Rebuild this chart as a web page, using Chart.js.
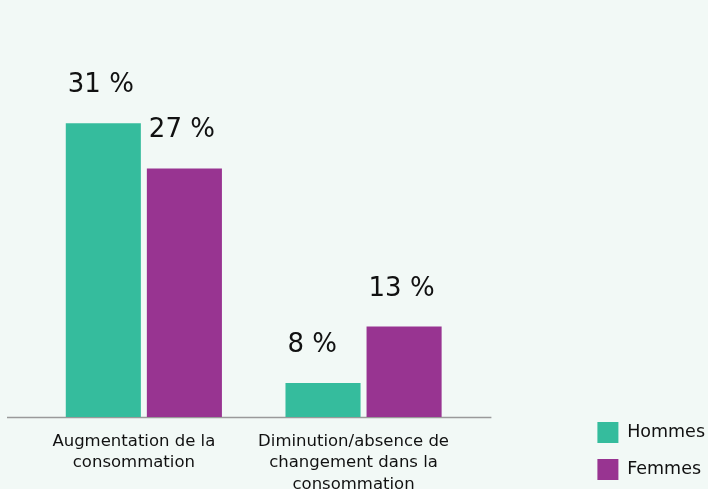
<!DOCTYPE html>
<html>
<head>
  <meta charset="utf-8">
  <title>Consommation : hommes et femmes</title>
  <script src="https://cdn.jsdelivr.net/npm/chart.js"></script>
  <style>
    html, body {
      margin: 0;
      padding: 0;
      background: #f2f9f6;
    }
    .chart-container {
      width: 708px;
      height: 489px;
    }
  </style>
</head>
<body>
  <div class="chart-container">
    <canvas id="consoChart"></canvas>
  </div>

  <script>
    // Categories (multi-line tick labels)
    const categories = [
      ['Augmentation de la', 'consommation'],
      ['Diminution/absence de', 'changement dans la', 'consommation']
    ];
    // Series values (%)
    const hommes = [31, 8];
    const femmes = [27, 13];

    const teal = '#35bc9d';
    const purple = '#983491';
    const fontFamily = '"DejaVu Sans", sans-serif';

    // draws "31 %" etc. above each bar, left aligned on the bar
    const valueLabels = {
      id: 'valueLabels',
      afterDatasetsDraw(chart) {
        const ctx = chart.ctx;
        ctx.save();
        ctx.font = '26px ' + fontFamily;
        ctx.fillStyle = '#111';
        ctx.textAlign = 'left';
        ctx.textBaseline = 'alphabetic';
        chart.data.datasets.forEach((ds, i) => {
          chart.getDatasetMeta(i).data.forEach((bar, j) => {
            ctx.fillText(ds.data[j] + ' %', bar.x - bar.width / 2 + 2, bar.y - 31);
          });
        });
        ctx.restore();
      }
    };

    // long baseline under the bars
    const baseLine = {
      id: 'baseLine',
      beforeDatasetsDraw(chart) {
        const { ctx, chartArea } = chart;
        ctx.save();
        ctx.strokeStyle = '#9a9a9a';
        ctx.lineWidth = 1.5;
        ctx.beginPath();
        ctx.moveTo(chartArea.left - 27, chartArea.bottom + 0.5);
        ctx.lineTo(chartArea.right + 18, chartArea.bottom + 0.5);
        ctx.stroke();
        ctx.restore();
      }
    };

    const ctx = document.getElementById('consoChart').getContext('2d');
    new Chart(ctx, {
      type: 'bar',
      data: {
        labels: categories,
        datasets: [
          {
            label: 'Hommes',
            data: hommes,
            backgroundColor: teal,
            categoryPercentage: 0.738,
            barPercentage: 0.926
          },
          {
            label: 'Femmes',
            data: femmes,
            backgroundColor: purple,
            categoryPercentage: 0.738,
            barPercentage: 0.926
          }
        ]
      },
      options: {
        responsive: true,
        maintainAspectRatio: false,
        animation: false,
        layout: {
          padding: { left: 34, top: 21.5, right: -7, bottom: -7 }
        },
        plugins: {
          tooltip: { enabled: false },
          legend: {
            position: 'right',
            align: 'end',
            labels: {
              boxWidth: 21,
              boxHeight: 21,
              padding: 16,
              color: '#111',
              font: { family: fontFamily, size: 17.5 }
            }
          }
        },
        scales: {
          x: {
            grid: { display: false },
            border: { display: false },
            ticks: {
              color: '#111',
              padding: 6,
              labelOffset: -10,
              maxRotation: 0,
              autoSkip: false,
              font: { family: fontFamily, size: 16.5, lineHeight: 1.3 }
            },
            afterFit(scale) { scale.height = 79; }
          },
          y: {
            display: false,
            min: 5,
            max: 40
          },
          yRight: {
            position: 'right',
            display: true,
            grid: { display: false },
            border: { display: false },
            ticks: { display: false },
            afterFit(scale) { scale.width = 108; }
          }
        }
      },
      plugins: [baseLine, valueLabels]
    });
  </script>
</body>
</html>
